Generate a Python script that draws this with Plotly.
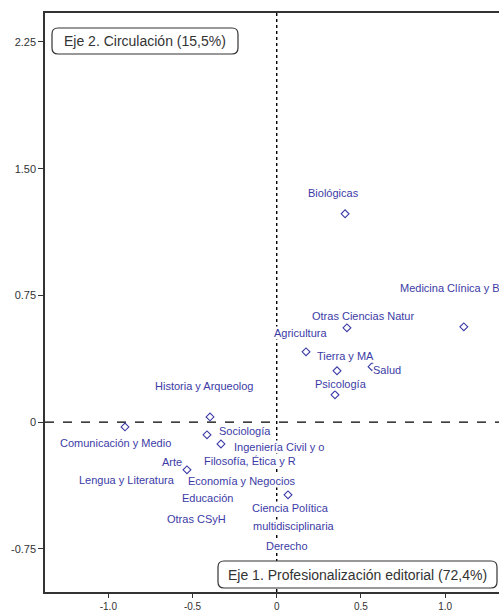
import plotly.graph_objects as go

# ---- data ----
categories = [
    "Biológicas", "Medicina Clínica y B", "Otras Ciencias Natur", "Agricultura",
    "Tierra y MA", "Salud", "Psicología", "Historia y Arqueolog", "Sociología",
    "Ingeniería Civil y o", "Comunicación y Medio", "Arte", "Ciencia Política",
    "Lengua y Literatura", "Filosofía, Ética y R", "Economía y Negocios",
    "Educación", "Otras CSyH", "multidisciplinaria", "Derecho",
]
dim1 = [0.406, 1.111, 0.417, 0.174, 0.358, 0.566, 0.346, -0.396, -0.414,
        -0.331, -0.901, -0.533, 0.067, -0.889, -0.159, -0.212, -0.414,
        -0.479, 0.103, 0.061]
dim2 = [1.233, 0.564, 0.558, 0.416, 0.304, 0.328, 0.162, 0.031, -0.075,
        -0.129, -0.028, -0.282, -0.430, -0.342, -0.229, -0.348, -0.448,
        -0.572, -0.614, -0.733]
x_tick_vals = [-1.0, -0.5, 0.0, 0.5, 1.0]
x_tick_text = ["-1.0", "-0.5", "0", "0.5", "1.0"]
y_tick_vals = [2.25, 1.50, 0.75, 0.0, -0.75]
y_tick_text = ["2.25", "1.50", "0.75", "0", "-0.75"]
x_title = "Eje 1. Profesionalización editorial (72,4%)"
y_title = "Eje 2. Circulación (15,5%)"

# ---- style: label offsets in pixels (right, up) ----
label_shift = {
    "Biológicas": (-12, 21), "Medicina Clínica y B": (-14, 39),
    "Otras Ciencias Natur": (16, 12), "Agricultura": (-6, 19),
    "Tierra y MA": (8, 15), "Salud": (15, -3), "Psicología": (6, 11),
    "Historia y Arqueolog": (-6, 31), "Sociología": (38, 4),
    "Ingeniería Civil y o": (59, -3), "Comunicación y Medio": (-9, -16),
    "Arte": (-15, 8), "Ciencia Política": (2, -13),
}

W, H = 499, 612
ML, MR, MT, MB = 45, 0, 13, 20
PW, PH = W - ML - MR, H - MT - MB
BLUE = "#3b3ba6"
FONT = "Liberation Sans, Arial, sans-serif"

fig = go.Figure()
fig.add_trace(go.Scatter(
    x=dim1, y=dim2, mode="markers",
    marker=dict(symbol="diamond-open", size=6, color=BLUE, line=dict(width=1.1, color=BLUE)),
    hoverinfo="text", text=categories, showlegend=False,
))

annotations = []
for name, xv, yv in zip(categories, dim1, dim2):
    dx, dy = label_shift.get(name, (0, 0))
    annotations.append(dict(
        x=xv, y=yv, xref="x", yref="y", text=name, showarrow=False,
        xshift=dx, yshift=dy, xanchor="center", yanchor="middle",
        font=dict(family=FONT, size=11, color=BLUE),
        bgcolor="white", borderpad=0,
    ))

def px_to_paper(px, py):
    return (px - ML) / PW, (H - MB - py) / PH

def rounded_rect(x0, y0, x1, y1, r):
    rx, ry = r / PW, r / PH
    a0, b1 = px_to_paper(x0, y0)
    a1, b0 = px_to_paper(x1, y1)
    return (f"M {a0+rx},{b1} L {a1-rx},{b1} Q {a1},{b1} {a1},{b1-ry} "
            f"L {a1},{b0+ry} Q {a1},{b0} {a1-rx},{b0} L {a0+rx},{b0} "
            f"Q {a0},{b0} {a0},{b0+ry} L {a0},{b1-ry} Q {a0},{b1} {a0+rx},{b1} Z")

shapes = [
    dict(type="line", xref="x", yref="paper", x0=0, x1=0, y0=0, y1=1,
         line=dict(color="black", width=1.4, dash="dot"), layer="below"),
    dict(type="line", xref="paper", yref="y", x0=0, x1=1, y0=0, y1=0,
         line=dict(color="black", width=1.2, dash="dash"), layer="below"),
    dict(type="path", xref="paper", yref="paper", path=rounded_rect(52, 28, 238, 54, 6),
         line=dict(color="#333333", width=1.2), fillcolor="white", layer="above"),
    dict(type="path", xref="paper", yref="paper", path=rounded_rect(218, 561, 497, 588, 6),
         line=dict(color="#333333", width=1.2), fillcolor="white", layer="above"),
]

cx, cy = px_to_paper((52 + 238) / 2, (28 + 54) / 2)
annotations.append(dict(x=cx, y=cy, xref="paper", yref="paper", text=y_title,
                        xanchor="center", yanchor="middle",
                        showarrow=False, font=dict(family=FONT, size=14, color="#333333")))
cx, cy = px_to_paper((218 + 497) / 2, (561 + 588) / 2)
annotations.append(dict(x=cx, y=cy, xref="paper", yref="paper", text=x_title,
                        xanchor="center", yanchor="middle",
                        showarrow=False, font=dict(family=FONT, size=14, color="#333333")))

fig.update_layout(
    width=W, height=H, margin=dict(l=ML, r=MR, t=MT, b=MB, autoexpand=False),
    plot_bgcolor="white", paper_bgcolor="white",
    shapes=shapes, annotations=annotations,
    font=dict(family=FONT, size=11, color="#333333"),
)
fig.update_xaxes(range=[-1.376, 1.320], tickvals=x_tick_vals, ticktext=x_tick_text,
                 showgrid=False, zeroline=False, showline=True, mirror=True,
                 linecolor="#333333", linewidth=1.5, ticks="outside", ticklen=4,
                 tickcolor="#333333", tickwidth=1.3, automargin=False,
                 ticklabelstandoff=0,
                 tickfont=dict(size=10, color="#333333"))
fig.update_yaxes(range=[-1.005, 2.421], tickvals=y_tick_vals, ticktext=y_tick_text,
                 showgrid=False, zeroline=False, showline=True,
                 linecolor="#333333", linewidth=1.5, ticks="outside", ticklen=5,
                 tickcolor="#333333", tickwidth=1.3, automargin=False,
                 tickfont=dict(size=11, color="#333333"))

fig.write_html("out.html", config={"displayModeBar": False},
               post_script="document.body.style.margin='0';document.body.style.overflow='hidden';")
